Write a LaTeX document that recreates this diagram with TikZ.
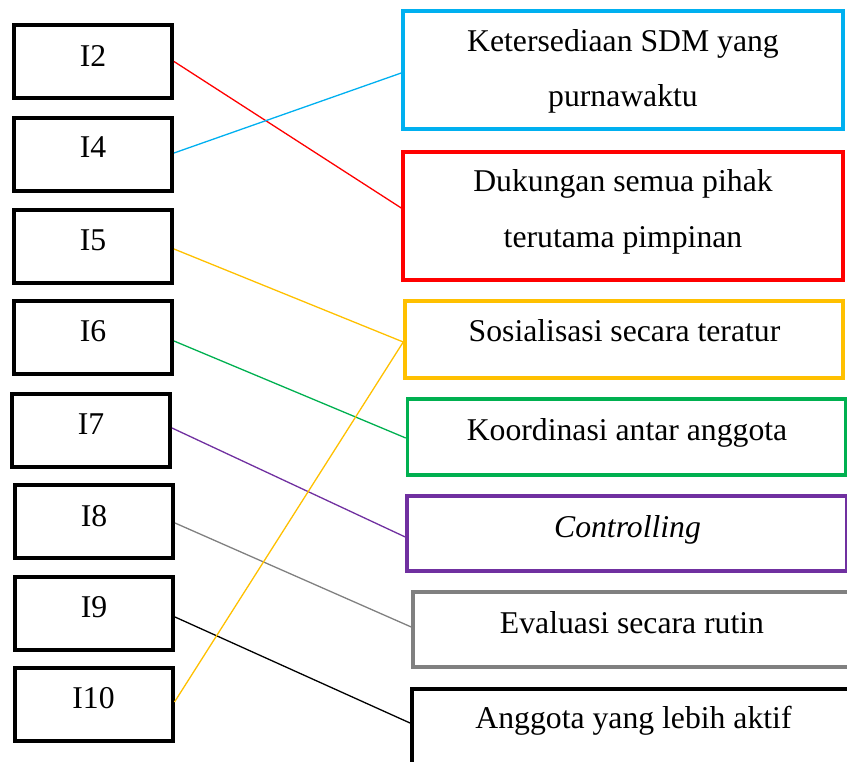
\documentclass[tikz,border=0pt]{standalone}
\usepackage{fontspec}
\setmainfont{Liberation Serif}
\definecolor{skyline}{HTML}{00B0F0}
\definecolor{redline}{HTML}{FF0000}
\definecolor{amber}{HTML}{FFC000}
\definecolor{leaf}{HTML}{00B050}
\definecolor{violet}{HTML}{7030A0}
\definecolor{slate}{HTML}{808080}

\begin{document}
\begin{tikzpicture}[x=1pt,y=-1pt,
  itembox/.style={draw=black, line width=4pt, minimum width=158pt, minimum height=73pt, inner sep=0pt},
  factorbox/.style={draw=#1, line width=3.5pt, minimum width=440pt, inner sep=0pt},
  txt/.style={anchor=base, font=\fontsize{31.7}{38}\selectfont, inner sep=0pt},
  link/.style={draw=#1, line width=1.3pt}
]
\useasboundingbox (0,0) rectangle (847,762);
\clip (0,0) rectangle (847,762);

% indicator boxes
\node[itembox] (i2)  at (93,61.5)   {};
\node[itembox] (i4)  at (93,155)    {};
\node[itembox] (i5)  at (93,246.5)  {};
\node[itembox] (i6)  at (93,337.5)  {};
\node[itembox] (i7)  at (91,430)    {};
\node[itembox] (i8)  at (94,521.5)  {};
\node[itembox] (i9)  at (94,613)    {};
\node[itembox] (i10) at (93.5,704.5){};

\node[txt] (ti2)  at (93,67)   {I2};
\node[txt] (ti4)  at (93,158)  {I4};
\node[txt] (ti5)  at (93,251)  {I5};
\node[txt] (ti6)  at (93,342)  {I6};
\node[txt] (ti7)  at (91,434)  {I7};
\node[txt] (ti8)  at (94,526)  {I8};
\node[txt] (ti9)  at (94,617)  {I9};
\node[txt] (ti10) at (93.5,708){I10};

% factor boxes
\node[factorbox=skyline, minimum height=118pt] (sdm)      at (623,70)    {};
\node[factorbox=redline, minimum height=128pt] (dukungan) at (623,216)   {};
\node[factorbox=amber,   minimum width=438pt, minimum height=77pt] (sos)  at (624,339.5) {};
\node[factorbox=leaf,    minimum width=438pt, minimum height=76pt] (koor) at (626.5,437) {};
\node[factorbox=violet,  minimum height=75pt]  (ctrl)     at (627,533.5) {};
\node[factorbox=slate,   minimum height=75pt]  (eval)     at (633,629.5) {};
\node[factorbox=black,   line width=4pt, minimum height=76pt] (aktif) at (632,727) {};

\node[txt] (tsdm1) at (623,52)  {Ketersediaan SDM yang};
\node[txt] (tsdm2) at (623,107) {purnawaktu};
\node[txt] (tduk1) at (623,192) {Dukungan semua pihak};
\node[txt] (tduk2) at (623,248) {terutama pimpinan};
\node[txt] (tsos)  at (624.5,342) {Sosialisasi secara teratur};
\node[txt] (tkoor) at (627,440) {Koordinasi antar anggota};
\node[txt] (tctrl) at (627.5,537) {\itshape Controlling};
\node[txt] (teval) at (632,633) {Evaluasi secara rutin};
\node[txt] (takt)  at (633.5,728) {Anggota yang lebih aktif};

% connectors
\draw[link=redline] (i2.east) -- ([yshift=8pt]dukungan.west);
\draw[link=skyline] ([yshift=2pt]i4.east) -- ([yshift=-3pt]sdm.west);
\draw[link=amber]   ([yshift=-2.5pt]i5.east) -- ([yshift=-2.5pt]sos.west);
\draw[link=leaf]    ([yshift=-3.5pt]i6.east) -- ([yshift=-1pt]koor.west);
\draw[link=violet]  ([yshift=2pt]i7.east) -- ([yshift=-3.5pt]ctrl.west);
\draw[link=slate]   ([yshift=-1.5pt]i8.east) -- ([yshift=2.5pt]eval.west);
\draw[link=black]   ([yshift=-4pt]i9.east) -- ([yshift=4pt]aktif.west);
\draw[link=amber]   ([yshift=2.5pt]i10.east) -- ([yshift=-2.5pt]sos.west);
\end{tikzpicture}
\end{document}
